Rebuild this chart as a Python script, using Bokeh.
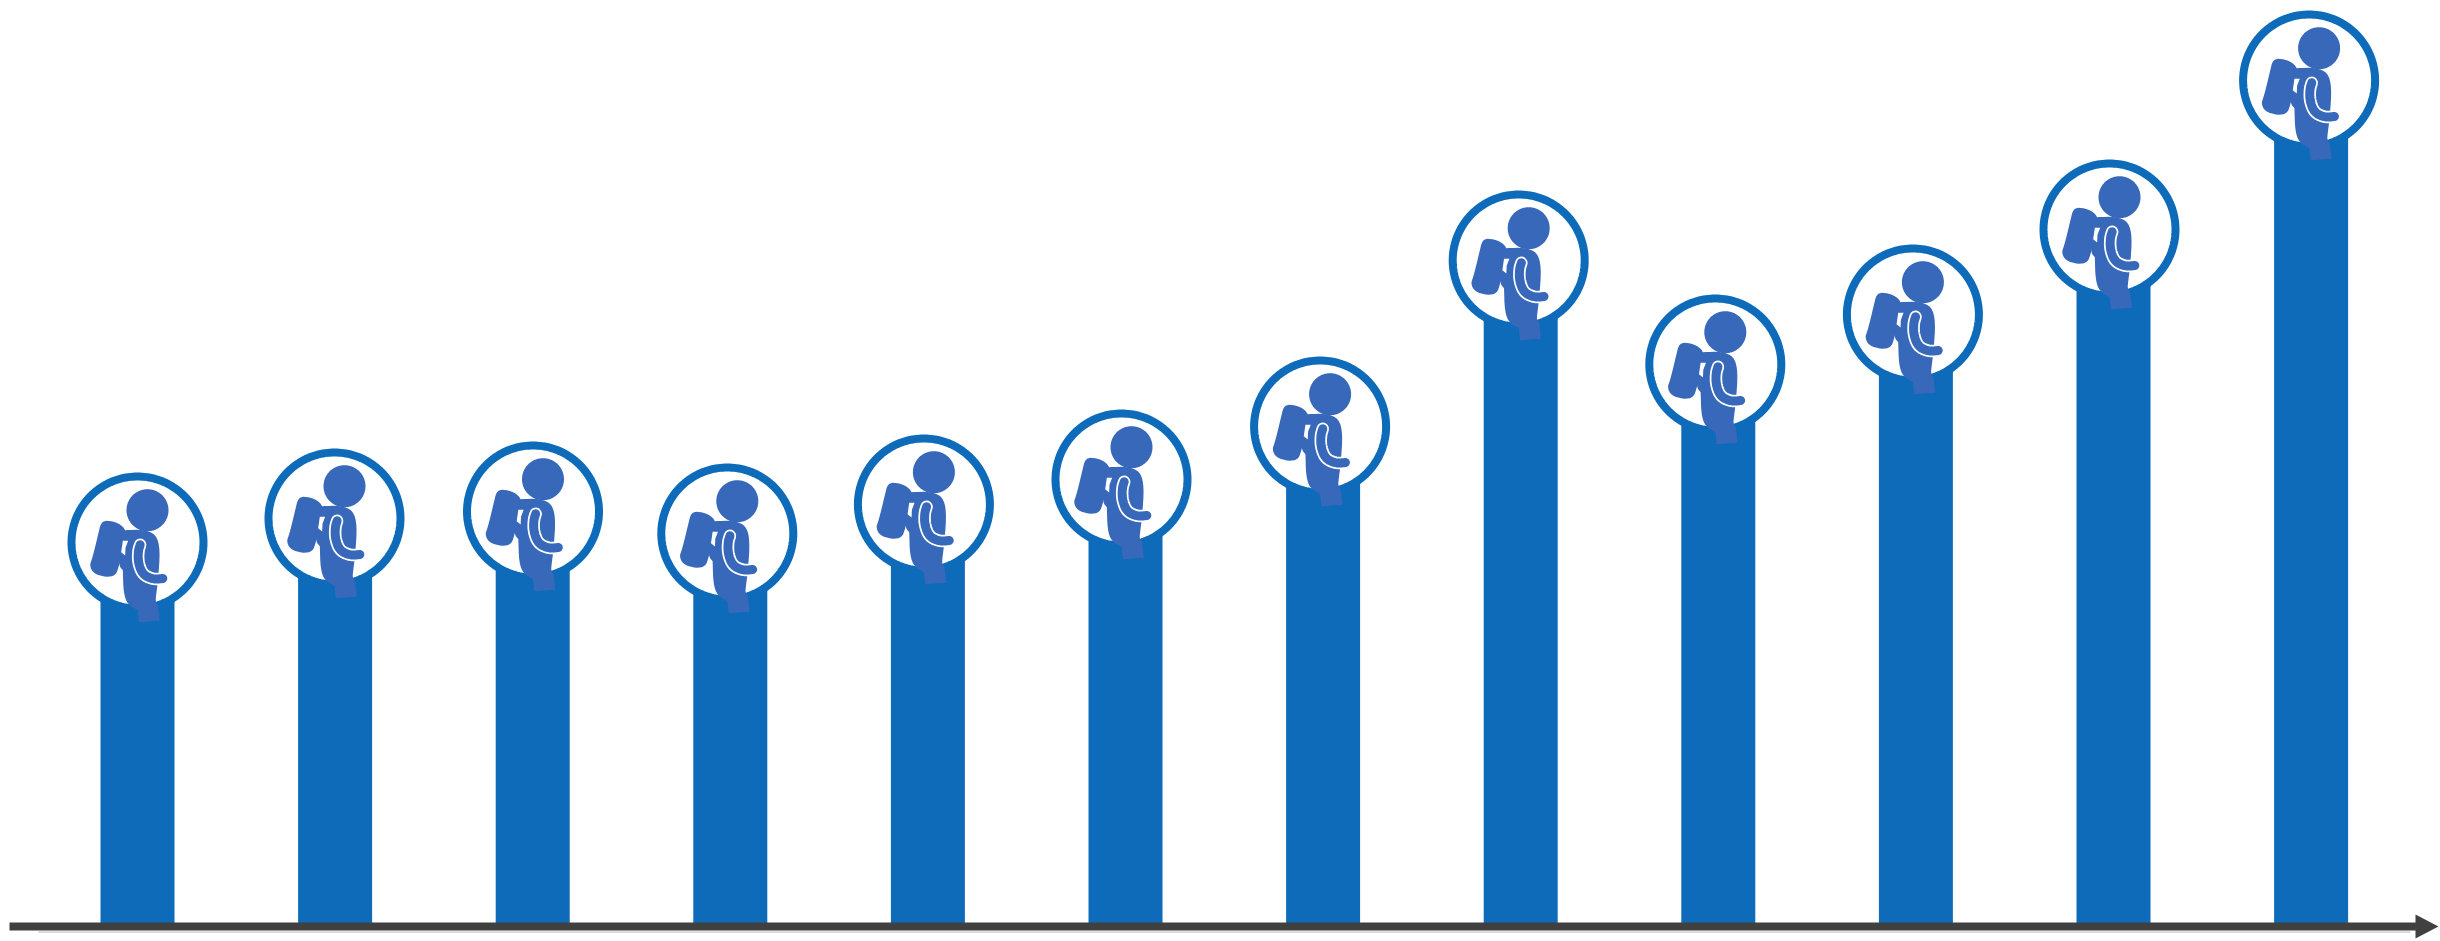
import math
from bokeh.plotting import figure
from bokeh.embed import file_html
from bokeh.resources import INLINE

# --- data ---------------------------------------------------------------
categories = list(range(12))
values = [384, 408, 415, 393, 422, 447, 500, 666, 562, 612, 697, 846]

# --- layout / style -----------------------------------------------------
W, H = 2440, 941
STEP = 197.6            # px between bars
FIRST = 137             # px of first bar centre
BASE = 926              # px of baseline
marker_shift = [0, -0.6, 0.3, -3, -4, -4, -3, -2, -3, -3, -4, -2]
BAR = "#0D6BB9"
ICON = "#3768BA"
AXIS = "#404040"


def chaikin(pts, n=3, closed=True):
    for _ in range(n):
        out = []
        m = len(pts)
        rng = range(m) if closed else range(m - 1)
        if not closed:
            out.append(pts[0])
        for k in rng:
            a, b = pts[k], pts[(k + 1) % m]
            out.append((0.75 * a[0] + 0.25 * b[0], 0.75 * a[1] + 0.25 * b[1]))
            out.append((0.25 * a[0] + 0.75 * b[0], 0.25 * a[1] + 0.75 * b[1]))
        if not closed:
            out.append(pts[-1])
        pts = out
    return pts


def rel(zoom_pts):
    # icon outlines measured relative to the ring centre
    return [((x - 156) / 3, (y - 189) / 3) for x, y in zoom_pts]


def disc(cx, cy, r, n=180):
    return [(cx + r * math.cos(2 * math.pi * k / n), cy + r * math.sin(2 * math.pi * k / n)) for k in range(n)]


PACK = chaikin(rel([(38, 165), (46, 130), (64, 122), (100, 131), (122, 152), (118, 185), (100, 262),
                    (90, 288), (62, 293), (24, 282), (12, 258), (20, 238)]), 2)
BODY = chaikin(rel([(115, 152), (115, 152), (175, 150), (212, 165), (224, 210), (218, 300),
                    (212, 345), (210, 366), (218, 378), (218, 378), (223, 424), (223, 424),
                    (160, 428), (160, 428), (156, 392), (156, 392), (126, 374), (114, 340),
                    (112, 272), (112, 272), (100, 258), (100, 200)]), 2)
SLIT = rel([(112, 184), (128, 184), (120, 205), (119, 228), (107, 218)])
ARM = chaikin(rel([(164, 196), (158, 215), (158, 250), (172, 286), (205, 300), (232, 297)]), 3, False)
HEAD = [(x + 10, y - 32.3) for x, y in disc(0, 0, 21)]
RING = disc(0, 0, 66)


def place(shape):
    xs, ys = [], []
    for c, v, s in zip(categories, values, marker_shift):
        xs.append([c + (s + dx) / STEP for dx, dy in shape])
        ys.append([v - dy for dx, dy in shape])
    return xs, ys


p = figure(
    width=W, height=H,
    x_range=(-FIRST / STEP, (W - FIRST) / STEP),
    y_range=(BASE - H, BASE),
    x_axis_location=None, y_axis_location=None,
    min_border=0, outline_line_color=None,
    toolbar_location=None, output_backend="svg",
    background_fill_color="white", border_fill_color="white",
)
p.grid.visible = False
p.styles = {"position": "absolute", "left": "0px", "top": "0px"}

# bars
p.vbar(x=categories, top=values, bottom=0, width=74 / STEP, fill_color=BAR, line_color=None)

# axis with arrow head
px = lambda x: (x - FIRST) / STEP
p.segment(x0=[px(38)], y0=[-5.5], x1=[px(2410)], y1=[-5.5], line_color="#CFCFCF", line_width=1.5)
p.segment(x0=[px(9)], y0=[0], x1=[px(2418)], y1=[0], line_color=AXIS, line_width=8)
p.patch(x=[px(2415), px(2438), px(2415)], y=[12, 0, -12], fill_color=AXIS, line_color=None)

# ring
xs, ys = place(RING)
p.patches(xs, ys, fill_color="white", line_color=BAR, line_width=8)

# pictogram
xs, ys = place(PACK)
p.patches(xs, ys, fill_color=ICON, line_color=None)
xs, ys = place(BODY)
p.patches(xs, ys, fill_color=ICON, line_color=None)
xs, ys = place(SLIT)
p.patches(xs, ys, fill_color="white", line_color=None)
xs, ys = place(HEAD)
p.patches(xs, ys, fill_color=ICON, line_color=None)
xs, ys = place(ARM)
p.multi_line(xs, ys, line_color="white", line_width=12.5, line_cap="round", line_join="round")
p.multi_line(xs, ys, line_color=ICON, line_width=9, line_cap="round", line_join="round")

open("out.html", "w").write(file_html(p, INLINE))
